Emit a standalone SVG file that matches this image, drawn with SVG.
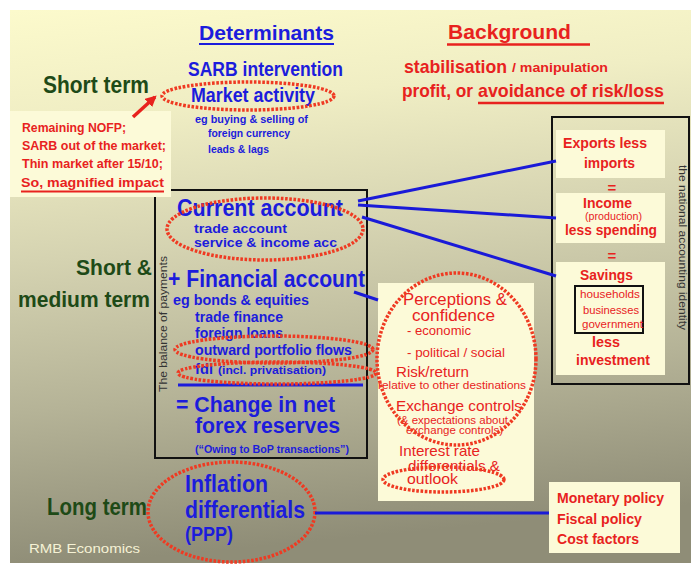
<svg xmlns="http://www.w3.org/2000/svg" width="691" height="566" viewBox="0 0 691 566">
<defs>
<linearGradient id="bg" x1="0" y1="0" x2="0.12" y2="1">
<stop offset="0" stop-color="#fcfacc"/>
<stop offset="0.2" stop-color="#f0eec4"/>
<stop offset="0.45" stop-color="#d5d3b1"/>
<stop offset="0.72" stop-color="#b5b397"/>
<stop offset="1" stop-color="#8f8d77"/>
</linearGradient>
<marker id="arr" viewBox="0 0 10 10" refX="8" refY="5" markerWidth="3.2" markerHeight="3.2" orient="auto" markerUnits="strokeWidth">
<path d="M0,0 L10,5 L0,10 Z" fill="#e8221e"/>
</marker>
<style>
text{font-family:"Liberation Sans",Arial,sans-serif;}
.b{font-weight:bold;}
.blue{fill:#1c1cdc;}
.red{fill:#e8221e;}
.green{fill:#1e4a17;}
.cream{fill:#fcfad8;}
.dot{fill:none;stroke:#ef3a22;stroke-width:3.5;stroke-dasharray:2.6 1.6;}
.box{fill:none;stroke:#111;stroke-width:2;}
.conn{stroke:#1a1ad8;stroke-width:3;fill:none;}
.ul{stroke-width:2.5;}
</style>
</defs>
<rect x="10" y="10" width="681" height="553" fill="url(#bg)"/>

<g id="titles">
<text class="b blue" x="199" y="40" font-size="21" textLength="135" lengthAdjust="spacingAndGlyphs">Determinants</text>
<line x1="199" y1="44" x2="334" y2="44" stroke="#1c1cdc" stroke-width="2"/>
<text class="b red" x="448" y="39" font-size="21" textLength="123" lengthAdjust="spacingAndGlyphs">Background</text>
<line x1="447" y1="44.5" x2="590" y2="44.5" stroke="#e8221e" class="ul"/>
<text class="b red" x="404" y="73" font-size="18.5" textLength="103" lengthAdjust="spacingAndGlyphs">stabilisation</text>
<text class="b red" x="512" y="72" font-size="13" textLength="96" lengthAdjust="spacingAndGlyphs">/ manipulation</text>
<text class="b red" x="402" y="97" font-size="18.5" textLength="71" lengthAdjust="spacingAndGlyphs">profit, or</text>
<text class="b red" x="478" y="97" font-size="18.5" textLength="186" lengthAdjust="spacingAndGlyphs">avoidance of risk/loss</text>
<line x1="478" y1="103" x2="664" y2="103" stroke="#e8221e" class="ul"/>
</g>

<g id="terms">
<text class="b green" x="43" y="93" font-size="23.5" textLength="106" lengthAdjust="spacingAndGlyphs">Short term</text>
<text class="b green" x="76" y="275" font-size="22" textLength="76" lengthAdjust="spacingAndGlyphs">Short &amp;</text>
<text class="b green" x="18" y="307" font-size="22" textLength="132" lengthAdjust="spacingAndGlyphs">medium term</text>
<text class="b green" x="47" y="515" font-size="23.5" textLength="100" lengthAdjust="spacingAndGlyphs">Long term</text>
<text x="29" y="553" font-size="13" fill="#f5f2d5" textLength="111" lengthAdjust="spacingAndGlyphs">RMB Economics</text>
</g>

<g id="sarb">
<text class="b blue" x="188" y="76" font-size="20" textLength="155" lengthAdjust="spacingAndGlyphs">SARB intervention</text>
<text class="b blue" x="191" y="102" font-size="20" textLength="124" lengthAdjust="spacingAndGlyphs">Market activity</text>
<text class="b blue" x="195" y="123" font-size="11.5" textLength="113" lengthAdjust="spacingAndGlyphs">eg buying &amp; selling of</text>
<text class="b blue" x="208" y="137" font-size="11.5" textLength="82" lengthAdjust="spacingAndGlyphs">foreign currency</text>
<text class="b blue" x="208" y="153" font-size="11.5" textLength="61" lengthAdjust="spacingAndGlyphs">leads &amp; lags</text>
<ellipse class="dot" cx="248" cy="96" rx="86" ry="14"/>
</g>

<g id="bop">
<rect class="box" x="155" y="190" width="212" height="268"/>
<text transform="translate(167,392) rotate(-90)" font-size="10" fill="#333" textLength="136" lengthAdjust="spacingAndGlyphs">The balance of payments</text>
<text class="b blue" x="177" y="216" font-size="24" textLength="166" lengthAdjust="spacingAndGlyphs">Current account</text>
<text class="b blue" x="194" y="233" font-size="13.5" textLength="93" lengthAdjust="spacingAndGlyphs">trade account</text>
<text class="b blue" x="194" y="247" font-size="13.5" textLength="143" lengthAdjust="spacingAndGlyphs">service &amp; income acc</text>
<text class="b blue" x="168" y="287" font-size="24" textLength="197" lengthAdjust="spacingAndGlyphs">+ Financial account</text>
<text class="b blue" x="173" y="305" font-size="14.5" textLength="136" lengthAdjust="spacingAndGlyphs">eg bonds &amp; equities</text>
<text class="b blue" x="195" y="322" font-size="14.5" textLength="88" lengthAdjust="spacingAndGlyphs">trade finance</text>
<text class="b blue" x="195" y="338" font-size="14.5" textLength="88" lengthAdjust="spacingAndGlyphs">foreign loans</text>
<text class="b blue" x="195" y="355" font-size="14.5" textLength="157" lengthAdjust="spacingAndGlyphs">outward portfolio flows</text>
<text class="b blue" x="195" y="374" font-size="14.5" textLength="18" lengthAdjust="spacingAndGlyphs">fdi</text>
<text class="b blue" x="218" y="374" font-size="11" textLength="108" lengthAdjust="spacingAndGlyphs">(incl. privatisation)</text>
<line x1="178" y1="385" x2="363" y2="385" stroke="#1c1cdc" stroke-width="3"/>
<text class="b blue" x="176" y="412" font-size="21.5" textLength="159" lengthAdjust="spacingAndGlyphs">= Change in net</text>
<text class="b blue" x="195" y="433" font-size="21.5" textLength="145" lengthAdjust="spacingAndGlyphs">forex reserves</text>
<text class="b blue" x="195" y="453" font-size="10" textLength="154" lengthAdjust="spacingAndGlyphs">(“Owing to BoP transactions”)</text>
<ellipse class="dot" cx="265" cy="229" rx="98" ry="31"/>
<ellipse class="dot" cx="274" cy="349.5" rx="99" ry="13.5"/>
<ellipse class="dot" cx="277" cy="373" rx="99" ry="11"/>
</g>

<g id="note">
<rect class="cream" x="10" y="111" width="161" height="86"/>
<text class="b red" x="22" y="132" font-size="13" textLength="104" lengthAdjust="spacingAndGlyphs">Remaining NOFP;</text>
<text class="b red" x="22" y="150" font-size="13" textLength="144" lengthAdjust="spacingAndGlyphs">SARB out of the market;</text>
<text class="b red" x="22" y="168" font-size="13" textLength="141" lengthAdjust="spacingAndGlyphs">Thin market after 15/10;</text>
<text class="b red" x="21" y="187" font-size="13" textLength="143" lengthAdjust="spacingAndGlyphs">So, magnified impact</text>
<line x1="21" y1="191.5" x2="164" y2="191.5" stroke="#e8221e" stroke-width="2"/>
</g>

<g id="identity">
<rect class="box" x="552" y="117" width="137" height="267"/>
<rect class="cream" x="556" y="130" width="109" height="48"/>
<rect class="cream" x="556" y="193" width="109" height="50"/>
<rect class="cream" x="556" y="262" width="109" height="113"/>
<text class="b red" x="563" y="148" font-size="15.5" textLength="84" lengthAdjust="spacingAndGlyphs">Exports less</text>
<text class="b red" x="584" y="168" font-size="15.5" textLength="51" lengthAdjust="spacingAndGlyphs">imports</text>
<text class="b red" x="612" y="193" font-size="15" text-anchor="middle">=</text>
<text class="b red" x="583" y="208" font-size="14.5" textLength="49" lengthAdjust="spacingAndGlyphs">Income</text>
<text class="red" x="585" y="220" font-size="10.5" textLength="57" lengthAdjust="spacingAndGlyphs">(production)</text>
<text class="b red" x="565" y="235" font-size="15.5" textLength="92" lengthAdjust="spacingAndGlyphs">less spending</text>
<text class="b red" x="612" y="261" font-size="15" text-anchor="middle">=</text>
<text class="b red" x="580" y="280" font-size="15.5" textLength="53" lengthAdjust="spacingAndGlyphs">Savings</text>
<rect class="box" x="575" y="286" width="68" height="47"/>
<text class="red" x="580" y="298" font-size="11" textLength="60" lengthAdjust="spacingAndGlyphs">households</text>
<text class="red" x="583" y="314" font-size="11" textLength="56" lengthAdjust="spacingAndGlyphs">businesses</text>
<text class="red" x="582" y="328" font-size="11" textLength="61" lengthAdjust="spacingAndGlyphs">government</text>
<text class="b red" x="592" y="347" font-size="15.5" textLength="28" lengthAdjust="spacingAndGlyphs">less</text>
<text class="b red" x="576" y="365" font-size="15.5" textLength="74" lengthAdjust="spacingAndGlyphs">investment</text>
<text transform="translate(679,165) rotate(90)" font-size="10" fill="#333" textLength="165" lengthAdjust="spacingAndGlyphs">the national accounting identity</text>
</g>

<g id="factors">
<rect class="cream" x="378" y="283" width="156" height="218"/>
<text class="red" x="403" y="305" font-size="16.5" textLength="104" lengthAdjust="spacingAndGlyphs">Perceptions &amp;</text>
<text class="red" x="412" y="321" font-size="16.5" textLength="83" lengthAdjust="spacingAndGlyphs">confidence</text>
<text class="red" x="407" y="335" font-size="12" textLength="64" lengthAdjust="spacingAndGlyphs">- economic</text>
<text class="red" x="407" y="357" font-size="12" textLength="98" lengthAdjust="spacingAndGlyphs">- political / social</text>
<text class="red" x="396" y="377" font-size="15.5" textLength="73" lengthAdjust="spacingAndGlyphs">Risk/return</text>
<text class="red" x="378" y="389" font-size="10.5" textLength="148" lengthAdjust="spacingAndGlyphs">relative to other destinations</text>
<text class="red" x="396" y="411" font-size="15.5" textLength="126" lengthAdjust="spacingAndGlyphs">Exchange controls</text>
<text class="red" x="397" y="424" font-size="10" textLength="111" lengthAdjust="spacingAndGlyphs">(&amp; expectations about</text>
<text class="red" x="406" y="433.5" font-size="10" textLength="97" lengthAdjust="spacingAndGlyphs">exchange controls)</text>
<text class="red" x="399" y="456" font-size="15" textLength="81" lengthAdjust="spacingAndGlyphs">Interest rate</text>
<text class="red" x="408" y="471" font-size="15" textLength="92" lengthAdjust="spacingAndGlyphs">differentials &amp;</text>
<text class="red" x="407" y="484" font-size="15" textLength="51" lengthAdjust="spacingAndGlyphs">outlook</text>
<ellipse class="dot" cx="456.5" cy="359" rx="79.5" ry="86"/>
<ellipse class="dot" cx="443.5" cy="479.5" rx="60.5" ry="12.5"/>
</g>

<g id="inflation">
<text class="b blue" x="185" y="492" font-size="23.5" textLength="83" lengthAdjust="spacingAndGlyphs">Inflation</text>
<text class="b blue" x="185" y="518" font-size="23.5" textLength="120" lengthAdjust="spacingAndGlyphs">differentials</text>
<text class="b blue" x="185" y="541" font-size="21" textLength="48" lengthAdjust="spacingAndGlyphs">(PPP)</text>
<ellipse class="dot" cx="231.5" cy="512" rx="83.5" ry="50"/>
</g>

<g id="policy">
<rect class="cream" x="549" y="482" width="131" height="71"/>
<text class="b red" x="557" y="503" font-size="15.5" textLength="107" lengthAdjust="spacingAndGlyphs">Monetary policy</text>
<text class="b red" x="557" y="524" font-size="15.5" textLength="85" lengthAdjust="spacingAndGlyphs">Fiscal policy</text>
<text class="b red" x="557" y="544" font-size="15.5" textLength="82" lengthAdjust="spacingAndGlyphs">Cost factors</text>
</g>

<g id="connectors">
<line class="conn" x1="358" y1="201" x2="556" y2="161"/>
<line class="conn" x1="358" y1="205" x2="556" y2="218"/>
<line class="conn" x1="362" y1="217" x2="556" y2="276"/>
<line class="conn" x1="354" y1="292" x2="378" y2="300"/>
<line class="conn" x1="315" y1="513" x2="549" y2="513"/>
<line x1="133" y1="117" x2="155" y2="97" stroke="#e8221e" stroke-width="3.5" marker-end="url(#arr)"/>
</g>
</svg>
